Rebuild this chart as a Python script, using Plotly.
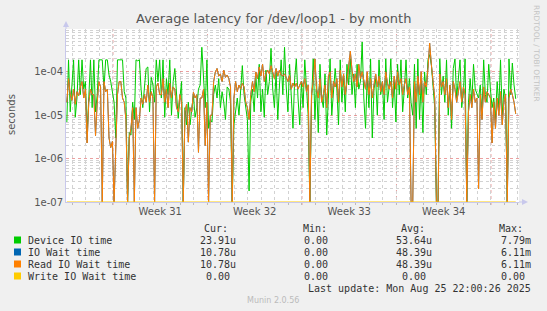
import plotly.graph_objects as go
import pandas as pd

# ---------------- data (values in microseconds, one value every 3 hours) ----------------
START = "2025-07-24 14:00"
STEP = "3h"

device_io_us = [
    7, 190, 12, 60, 190, 9, 25, 190,
    30, 190, 40, 60, 3.8, 25, 190, 15,
    190, 12, 30, 190, 190, 190, 40, 190,
    190, 85, 60, 30, 20, 3, 190, 190,
    190, 190, 35, 25, 0, 4, 3.5, 20,
    8, 190, 180, 190, 40, 15, 45, 120,
    130, 12, 75, 50, 20, 190, 60, 190,
    25, 190, 9, 70, 30, 190, 10, 60,
    120, 40, 8.5, 25, 60, 0, 15, 6,
    20, 6, 12, 30, 9, 15, 40, 50,
    370, 60, 15, 190, 5, 8, 7, 30,
    50, 25, 70, 15, 35, 20, 8, 45,
    40, 20, 0, 6, 15, 25, 10, 50,
    140, 30, 15, 8, 0.18, 20, 40, 12,
    80, 25, 150, 12, 40, 9, 110, 30,
    60, 350, 40, 15, 100, 8, 50, 190,
    30, 370, 45, 12, 150, 20, 5, 70,
    200, 25, 6, 60, 15, 190, 35, 10,
    0, 20, 200, 8, 60, 4, 150, 25,
    15, 90, 3.5, 45, 200, 10, 30, 120,
    40, 6, 190, 20, 80, 12, 150, 50,
    200, 30, 90, 15, 150, 40, 60, 490,
    25, 5, 80, 15, 200, 3, 40, 70,
    10, 190, 30, 60, 8, 200, 20, 45,
    200, 15, 60, 7, 150, 30, 190, 12,
    40, 190, 25, 70, 20, 10, 150, 5,
    200, 8, 60, 4, 100, 30, 190, 250,
    150, 40, 15, 0, 0, 200, 30, 80,
    20, 190, 10, 45, 5, 120, 200, 25,
    60, 190, 15, 35, 200, 0, 20, 70,
    20, 150, 40, 30, 25, 50, 10, 190,
    30, 20, 150, 40, 15, 25, 8, 60,
    15, 190, 10, 40, 25, 0, 200, 30,
    160, 50, 23.91,
]

read_wait_us = [
    20, 70, 30, 22, 40, 18, 35, 28,
    45, 60, 25, 40, 2.3, 20, 40, 30,
    30, 3.4, 20, 60, 45, 0, 60, 35,
    40, 3, 1.8, 2.5, 0, 2, 30, 60,
    60, 25, 20, 8, 0, 3, 5, 15,
    0, 15, 5, 8, 25, 18, 30, 20,
    50, 20, 35, 25, 0, 45, 55, 30,
    30, 70, 20, 40, 15, 55, 25, 45,
    40, 15, 12, 30, 20, 0, 12, 18,
    2.4, 15, 12, 34, 25, 30, 1.4, 25,
    25, 40, 2, 20, 0, 10, 10, 60,
    100, 120, 80, 90, 60, 110, 75, 85,
    70, 45, 0, 25, 60, 35, 50, 40,
    55, 45, 20, 15, 8, 30, 60, 35,
    100, 70, 130, 80, 150, 60, 90, 110,
    90, 140, 100, 70, 120, 80, 110, 85,
    80, 90, 75, 60, 85, 40, 55, 45,
    55, 40, 50, 60, 45, 70, 35, 50,
    0, 30, 60, 200, 40, 25, 70, 20,
    30, 50, 15, 80, 100, 25, 60, 45,
    70, 20, 110, 45, 90, 30, 60, 120,
    300, 110, 60, 90, 45, 150, 70, 100,
    60, 40, 100, 30, 70, 25, 50, 90,
    45, 80, 35, 60, 30, 100, 55, 40,
    60, 25, 80, 40, 100, 50, 70, 30,
    50, 70, 30, 45, 0, 0, 60, 20,
    80, 30, 100, 20, 60, 45, 120, 460,
    150, 60, 25, 0, 0, 90, 45, 60,
    30, 70, 15, 50, 8, 60, 40, 20,
    40, 60, 20, 45, 30, 0, 12, 30,
    15, 40, 20, 25, 0.2, 30, 8, 45,
    20, 35, 30, 25, 2.3, 20, 5, 25,
    10, 35, 6, 20, 30, 0, 25, 40,
    30, 20, 10.78,
]

write_wait_us = [0.0] * len(read_wait_us)
io_wait_us = [r + w for r, w in zip(read_wait_us, write_wait_us)]

series_names = ["Device IO time", "IO Wait time", "Read IO Wait time", "Write IO Wait time"]
series_colors = ["#00CC00", "#0066B3", "#FF8000", "#FFCC00"]
cur_vals = ["23.91u", "10.78u", "10.78u", "0.00"]
min_vals = ["0.00", "0.00", "0.00", "0.00"]
avg_vals = ["53.64u", "48.39u", "48.39u", "0.00"]
max_vals = ["7.79m", "6.11m", "6.11m", "0.00"]
col_headers = ["Cur:", "Min:", "Avg:", "Max:"]

week_labels = ["Week 31", "Week 32", "Week 33", "Week 34"]
week_label_pos = ["2025-07-31 12:00", "2025-08-07 12:00", "2025-08-14 12:00", "2025-08-21 12:00"]
week_starts = ["2025-07-28", "2025-08-04", "2025-08-11", "2025-08-18", "2025-08-25"]
x_range = ["2025-07-24 12:30", "2025-08-27 01:50"]

y_ticks = [1e-7, 1e-6, 1e-5, 1e-4]
y_ticktext = ["1e-07", "1e-06", "1e-05", "1e-04"]

title_text = "Average latency for /dev/loop1 - by month"
last_update = "Last update: Mon Aug 25 22:00:26 2025"
munin_version = "Munin 2.0.56"
side_text = "RRDTOOL / TOBI OETIKER"

# ---------------- geometry ----------------
W, H = 547, 311
ML, MR, MT, MB = 66, 28, 29, 109
PW = W - ML - MR
PH = H - MT - MB


def px(x):
    return (x - ML) / PW


def py(y):
    return (H - MB - y) / PH


FLOOR = 1e-7


def to_plot(us):
    return [v * 1e-6 if v > 0 else FLOOR for v in us]


times = pd.date_range(START, periods=len(device_io_us), freq=STEP)

fig = go.Figure()
for name, color, vals in zip(series_names, series_colors,
                             [device_io_us, io_wait_us, read_wait_us, write_wait_us]):
    fig.add_trace(go.Scatter(x=times, y=to_plot(vals), mode="lines", name=name,
                             line=dict(color=color, width=1), showlegend=False,
                             hoverinfo="skip"))

minor_y = [m * 10.0 ** e for e in range(-7, -3) for m in range(2, 10)]

GRID_GRAY = "#d2d2d2"
GRID_RED = "rgba(225,120,120,0.7)"
AXIS_COL = "#c8c8ec"
TXT = "#555555"

fig.update_layout(
    width=W, height=H,
    margin=dict(l=ML, r=MR, t=MT, b=MB, pad=0),
    paper_bgcolor="#F0F0F0", plot_bgcolor="#FFFFFF",
    showlegend=False,
    xaxis=dict(type="date", range=x_range, tickmode="array", tickvals=week_label_pos,
               ticktext=week_labels, showgrid=False, ticks="", zeroline=False,
               showline=True, linecolor=AXIS_COL, linewidth=1, automargin=False,
               tickfont=dict(family="DejaVu Sans", size=10, color=TXT),
               minor=dict(dtick=86400000, tick0="2025-07-28", showgrid=True,
                          gridcolor=GRID_GRAY, griddash="dot", gridwidth=1,
                          ticks="outside", ticklen=2, tickcolor="#bbbbbb")),
    yaxis=dict(type="log", range=[-7, -3.01], tickmode="array", tickvals=y_ticks,
               ticktext=y_ticktext, showgrid=True, gridcolor=GRID_RED, griddash="dot",
               gridwidth=1, ticks="", zeroline=False, showline=True, linecolor=AXIS_COL,
               linewidth=1, automargin=False,
               tickfont=dict(family="DejaVu Sans", size=10, color=TXT),
               minor=dict(tickmode="array", tickvals=minor_y, showgrid=True,
                          gridcolor=GRID_GRAY, griddash="dot", gridwidth=1)),
)

shapes = []
for ws in week_starts:
    shapes.append(dict(type="line", xref="x", yref="paper", x0=ws, x1=ws,
                       y0=-3 / PH, y1=1, layer="below",
                       line=dict(color=GRID_RED, width=1, dash="dot")))
# axis arrows
shapes.append(dict(type="line", xref="paper", yref="paper", x0=0, x1=0, y0=1, y1=py(24),
                   line=dict(color=AXIS_COL, width=1)))
shapes.append(dict(type="path", xref="paper", yref="paper",
                   path=f"M {px(63)} {py(27)} L {px(69)} {py(27)} L {px(66)} {py(21)} Z",
                   fillcolor=AXIS_COL, line=dict(color=AXIS_COL, width=0)))
shapes.append(dict(type="line", xref="paper", yref="paper", x0=1, x1=px(523), y0=0, y1=0,
                   line=dict(color=AXIS_COL, width=1)))
shapes.append(dict(type="path", xref="paper", yref="paper",
                   path=f"M {px(522)} {py(199)} L {px(522)} {py(205)} L {px(528)} {py(202)} Z",
                   fillcolor=AXIS_COL, line=dict(color=AXIS_COL, width=0)))

annotations = []
# title
annotations.append(dict(text=title_text, xref="paper", yref="paper", x=px(273), y=py(19),
                        xanchor="center", yanchor="middle", showarrow=False,
                        font=dict(family="DejaVu Sans", size=13, color=TXT)))
# y axis title
annotations.append(dict(text="seconds", xref="paper", yref="paper", x=px(11), y=py(115),
                        xanchor="center", yanchor="middle", showarrow=False, textangle=-90,
                        font=dict(family="DejaVu Sans", size=10, color=TXT)))
# side text
annotations.append(dict(text=side_text, xref="paper", yref="paper", x=px(537), y=py(53),
                        xanchor="center", yanchor="middle", showarrow=False, textangle=90,
                        font=dict(family="DejaVu Sans", size=7.5, color="#c4c4c4")))

MONO = dict(family="DejaVu Sans Mono", size=10, color="#333333")
col_right = [238, 336, 434, 533]
header_left = [202, 301, 399, 497]
HEADER_Y = 228
ROW_Y = [240, 252, 264, 276]

for hx, h in zip(header_left, col_headers):
    annotations.append(dict(text=h, xref="paper", yref="paper", x=px(hx), y=py(HEADER_Y),
                            xanchor="left", yanchor="middle", showarrow=False, font=MONO))

for i, name in enumerate(series_names):
    ry = ROW_Y[i]
    shapes.append(dict(type="rect", xref="paper", yref="paper",
                       x0=px(14), x1=px(21), y0=py(ry + 3.5), y1=py(ry - 3.5),
                       fillcolor=series_colors[i], line=dict(width=0)))
    annotations.append(dict(text=name, xref="paper", yref="paper", x=px(26), y=py(ry),
                            xanchor="left", yanchor="middle", showarrow=False, font=MONO))
    for cx, vals in zip(col_right, [cur_vals, min_vals, avg_vals, max_vals]):
        v = vals[i]
        if v[-1].isdigit():
            v = v + "\u00a0"
        annotations.append(dict(text=v, xref="paper", yref="paper", x=px(cx), y=py(ry),
                                xanchor="right", yanchor="middle", showarrow=False, font=MONO))

annotations.append(dict(text=last_update, xref="paper", yref="paper", x=px(533), y=py(288),
                        xanchor="right", yanchor="middle", showarrow=False, font=MONO))
annotations.append(dict(text=munin_version, xref="paper", yref="paper", x=px(273), y=py(300),
                        xanchor="center", yanchor="middle", showarrow=False,
                        font=dict(family="DejaVu Sans", size=8, color="#bbbbbb")))

fig.update_layout(shapes=shapes, annotations=annotations)
fig.write_html("out.html")
